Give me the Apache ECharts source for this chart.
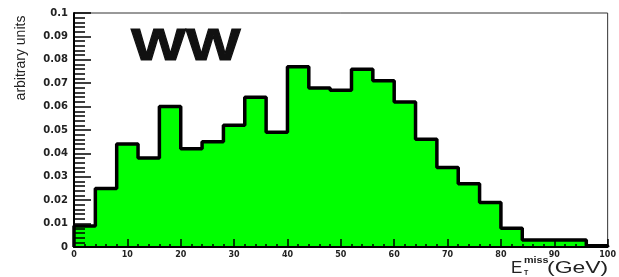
<!DOCTYPE html>
<html>
<head>
<meta charset="utf-8">
<script src="https://cdn.jsdelivr.net/npm/echarts@6/dist/echarts.min.js"></script>
<style>
  html, body { margin: 0; padding: 0; background: #fff; }
  #chart { width: 619px; height: 277px; }
</style>
</head>
<body>
<div id="chart"></div>
<script>
// bin lower edges (GeV), bins are 4 GeV wide
var binEdges = [0, 4, 8, 12, 16, 20, 24, 28, 32, 36, 40, 44, 48, 52, 56, 60, 64, 68, 72, 76, 80, 84, 88, 92, 96];
var binWidth = 4;
var binValues = [0.009, 0.025, 0.044, 0.038, 0.060, 0.042, 0.045, 0.052, 0.064, 0.049,
                 0.077, 0.068, 0.067, 0.076, 0.071, 0.062, 0.046, 0.034, 0.027, 0.019,
                 0.008, 0.003, 0.003, 0.003, 0.0005];
var xTicks = [0, 10, 20, 30, 40, 50, 60, 70, 80, 90, 100];

// step outline: start at 0, one point per bin edge, close back to 0
var pts = [[binEdges[0], 0]];
binEdges.forEach(function (e, i) { pts.push([e, binValues[i]]); });
var last = binEdges[binEdges.length - 1] + binWidth;
pts.push([last, binValues[binValues.length - 1]]);
pts.push([last, 0]);

var font = 'DejaVu Sans';
var chart = echarts.init(document.getElementById('chart'));
var option = {
    animation: false,
    backgroundColor: '#fff',
    grid: {
        left: 74, right: 7, top: 13, bottom: 30,
        show: true, borderColor: '#333', borderWidth: 1
    },
    xAxis: {
        type: 'value', min: xTicks[0], max: xTicks[xTicks.length - 1], interval: 10,
        z: 10,
        axisLine: { lineStyle: { color: '#000', width: 2 } },
        axisTick: { inside: true, length: 8, lineStyle: { color: '#000', width: 1.5 } },
        minorTick: { show: true, splitNumber: 5, length: 3, lineStyle: { color: '#000', width: 1.5 } },
        splitLine: { show: false },
        axisLabel: { margin: 4, color: '#222', fontFamily: font, fontWeight: 'bold', fontSize: 8 }
    },
    yAxis: {
        type: 'value', min: 0, max: 0.1, interval: 0.01,
        z: 10,
        axisLine: { lineStyle: { color: '#000', width: 2 } },
        axisTick: { inside: true, length: 17, lineStyle: { color: '#000', width: 1.5 } },
        minorTick: { show: true, splitNumber: 5, length: 11, lineStyle: { color: '#000', width: 1.5 } },
        splitLine: { show: false },
        axisLabel: {
            margin: 6, color: '#222', fontFamily: font, fontWeight: 'bold', fontSize: 10,
            formatter: function (v) {
                if (v === 0) return '0';
                if (Math.abs(v - 0.1) < 1e-9) return '0.1';
                return v.toFixed(2);
            }
        }
    },
    series: [{
        type: 'line',
        step: 'end',
        data: pts,
        symbol: 'none',
        lineStyle: { color: '#000', width: 3.5 },
        areaStyle: { color: '#00ff00', opacity: 1 },
        z: 2
    }],
    graphic: [
        {
            type: 'text', x: 131, y: 26, scaleX: 1.32, z: 20,
            style: { text: 'WW', font: 'bold 44px "Liberation Sans"', fill: '#111',
                     stroke: '#111', lineWidth: 1 }
        },
        {
            type: 'text', x: 21, y: 58, rotation: Math.PI / 2, z: 20,
            style: { text: 'arbitrary units', font: '14px "Liberation Sans"', fill: '#222',
                     align: 'center', verticalAlign: 'middle' }
        },
        {
            type: 'text', x: 511, y: 260, z: 20,
            style: { text: 'E', font: '17px "Liberation Sans"', fill: '#222' }
        },
        {
            type: 'text', x: 524, y: 256, scaleX: 1.2, z: 20,
            style: { text: 'miss', font: 'bold 9px "Liberation Sans"', fill: '#222' }
        },
        {
            type: 'text', x: 524, y: 270, z: 20,
            style: { text: 'T', font: 'bold 7px "Liberation Sans"', fill: '#222' }
        },
        {
            type: 'text', x: 547, y: 260, scaleX: 1.35, z: 20,
            style: { text: '(GeV)', font: '17px "Liberation Sans"', fill: '#222' }
        }
    ]
};
chart.setOption(option);
</script>
</body>
</html>
